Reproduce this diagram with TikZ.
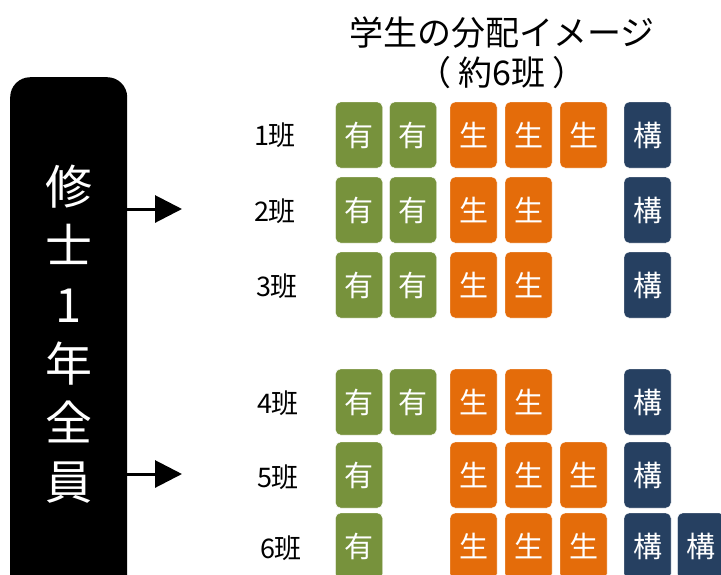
\documentclass[tikz,border=0pt]{standalone}
\usepackage{fontspec}
\setmainfont{Noto Sans CJK JP}
\usetikzlibrary{arrows.meta}
\definecolor{ygreen}{HTML}{77923C}
\definecolor{yorange}{HTML}{E46C0A}
\definecolor{ynavy}{HTML}{264061}
\tikzset{
  tile/.style={rounded corners=5pt, minimum width=47pt, minimum height=66pt, inner sep=0pt, text=white, draw=white, line width=0.4pt, font=\fontsize{29}{29}\selectfont},
  tyu/.style={tile, fill=ygreen},
  tsei/.style={tile, fill=yorange},
  tkou/.style={tile, fill=ynavy},
  rowlabel/.style={font=\fontsize{27}{27}\selectfont, inner sep=0pt},
  bigarrow/.style={line width=3pt, -{Triangle[length=27pt,width=27pt]}}
}
\begin{document}
\begin{tikzpicture}[x=1pt,y=-1pt]
\useasboundingbox (0,0) rectangle (721,574);
\clip (0,0) rectangle (721,574);
% left box
\node[fill=black, rounded corners=20pt, minimum width=117pt, minimum height=540pt, anchor=north west, inner sep=0pt] (all) at (10,77) {};
\node[text=white, align=center, font=\fontsize{47}{59}\selectfont, inner sep=0pt] (alltext) at (69,334) {修\\士\\1\\年\\全\\員};
\coordinate (t1) at (182,209);
\coordinate (t2) at (182,474);
\draw[bigarrow] (t1 -| all.east) -- (t1);
\draw[bigarrow] (t2 -| all.east) -- (t2);
% title
\node[align=center, font=\fontsize{34}{40}\selectfont, inner sep=0pt] (title) at (502,53) {学生の分配イメージ\\（\hspace{7pt}約6班\hspace{7pt}）};
% row labels
\node[rowlabel] (l1) at (275,135) {1班};
\node[rowlabel] (l2) at (275,211) {2班};
\node[rowlabel] (l3) at (277,286) {3班};
\node[rowlabel] (l4) at (278,403) {4班};
\node[rowlabel] (l5) at (278,477) {5班};
\node[rowlabel] (l6) at (281,548) {6班};
% tiles
\foreach \r/\y in {1/135,2/210,3/285,4/402,5/475,6/546}{
  \node[tyu] (r\r c1) at (359,\y) {有};
  \node[tsei] (r\r c3) at (473.5,\y) {生};
  \node[tsei] (r\r c4) at (528.5,\y) {生};
  \node[tkou] (r\r c6) at (647.5,\y) {構};
}
\foreach \r/\y in {1/135,2/210,3/285,4/402}{
  \node[tyu] (r\r c2) at (413,\y) {有};
}
\foreach \r/\y in {1/135,5/475,6/546}{
  \node[tsei] (r\r c5) at (583.5,\y) {生};
}
\node[tkou] (r6c7) at (701,546) {構};
\end{tikzpicture}
\end{document}
